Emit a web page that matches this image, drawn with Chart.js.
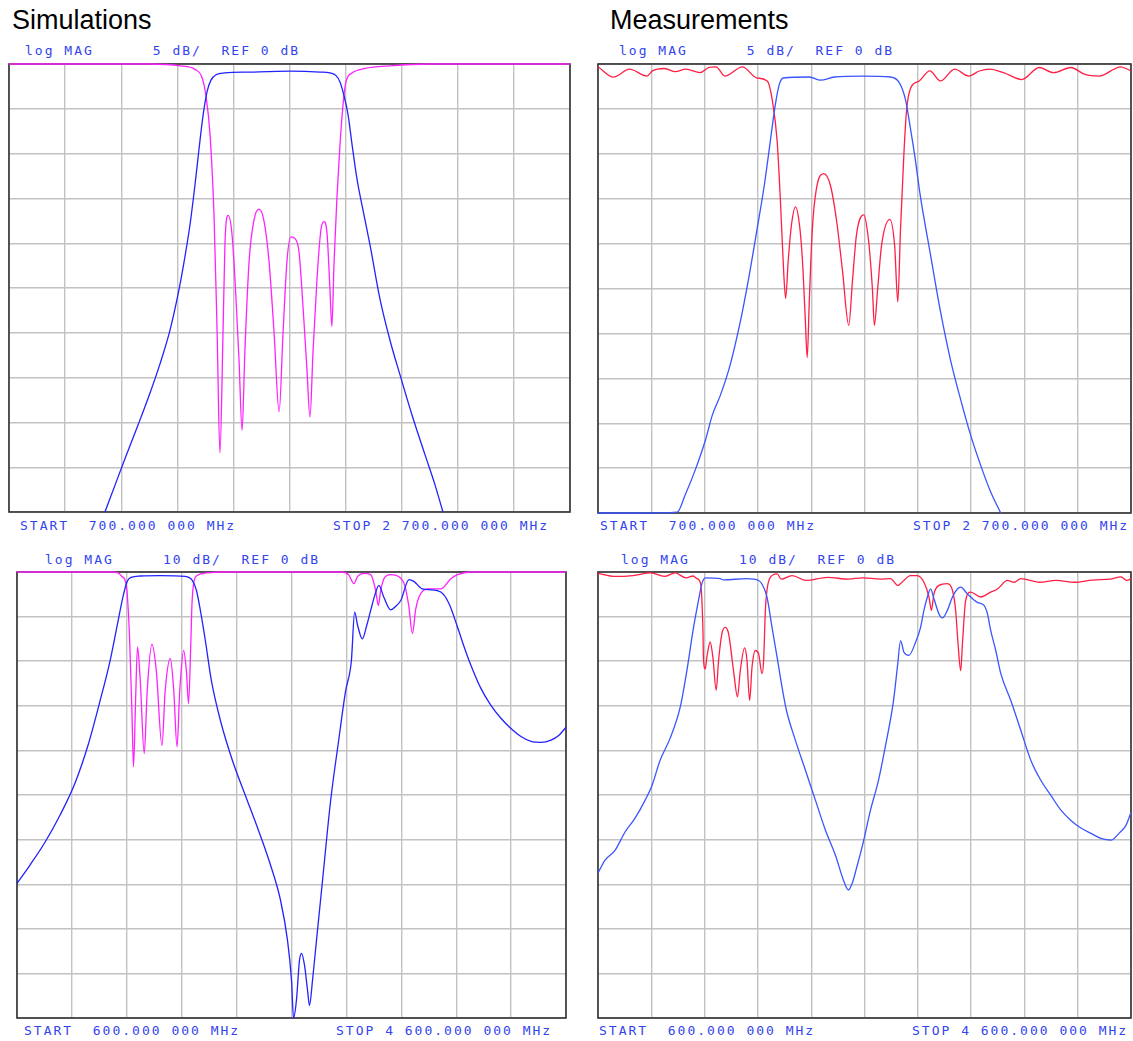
<!DOCTYPE html>
<html>
<head>
<meta charset="utf-8">
<script src="https://cdn.jsdelivr.net/npm/chart.js@4.4.0/dist/chart.umd.min.js"></script>
<style>
  html, body { margin:0; padding:0; background:#fff; width:1133px; height:1041px; overflow:hidden; }
  canvas { position:absolute; }
  .title { position:absolute; font-family:"Liberation Sans", Arial, sans-serif; font-size:27px; line-height:27px; color:#000; white-space:pre; }
  .ana { position:absolute; font-family:"DejaVu Sans Mono", monospace; font-size:13px; line-height:13px; letter-spacing:2px; color:#3344ee; white-space:pre; }
</style>
</head>
<body>
<div class="title" id="t1" style="left:12px; top:7px;"></div>
<div class="title" id="t2" style="left:610px; top:7px;"></div>
<div class="ana" id="h1" style="left:25px; top:44px;"></div>
<div class="ana" id="h2" style="left:619px; top:44px;"></div>
<div class="ana" id="f1a" style="left:20px; top:519px;"></div>
<div class="ana" id="f1b" style="left:333px; top:519px;"></div>
<div class="ana" id="f2a" style="left:600px; top:519px;"></div>
<div class="ana" id="f2b" style="left:913px; top:519px;"></div>
<div class="ana" id="h3" style="left:45px; top:553px;"></div>
<div class="ana" id="h4" style="left:621px; top:553px;"></div>
<div class="ana" id="f3a" style="left:24px; top:1024px;"></div>
<div class="ana" id="f3b" style="left:336px; top:1024px;"></div>
<div class="ana" id="f4a" style="left:599px; top:1024px;"></div>
<div class="ana" id="f4b" style="left:912px; top:1024px;"></div>
<canvas id="c1"></canvas>
<canvas id="c2"></canvas>
<canvas id="c3"></canvas>
<canvas id="c4"></canvas>
<script>
// ---------- texts ----------
const titleLeft = "Simulations";
const titleRight = "Measurements";
const headerNarrow = "log MAG      5 dB/  REF 0 dB";
const headerWide = "log MAG     10 dB/  REF 0 dB";
const startNarrow = "START  700.000 000 MHz";
const stopNarrow = "STOP 2 700.000 000 MHz";
const startWide = "START  600.000 000 MHz";
const stopWide = "STOP 4 600.000 000 MHz";

// ---------- axis ranges (MHz, dB) ----------
const narrowRange = { min: 700, max: 2700, step: 200, dbMin: -50, dbStep: 5 };
const wideRange   = { min: 600, max: 4600, step: 400, dbMin: -100, dbStep: 10 };

// ---------- data: [frequency MHz, magnitude dB] ----------
const simNarrowS21 = [[1042,-50],[1078,-47],[1114,-44],[1160,-40.3],[1203,-36.7],[1238,-33.5],[1274,-29.7],[1302,-25.8],[1324,-22.1],[1345,-18],[1363,-13.5],[1377,-9.6],[1392,-5.7],[1406,-3.1],[1420,-1.8],[1438,-1.2],[1470,-1.0],[1559,-0.9],[1702,-0.8],[1809,-0.9],[1844,-1.0],[1866,-1.3],[1880,-2.0],[1894,-3.5],[1909,-5.7],[1923,-9.0],[1941,-12.9],[1962,-16.3],[1987,-20.2],[2023,-26.3],[2058,-30.8],[2094,-34.7],[2137,-39.2],[2183,-43.6],[2219,-47],[2247,-50]];
const simNarrowS11 = [[700,0],[1203,0],[1310,-0.2],[1363,-0.6],[1388,-1.5],[1402,-3.5],[1417,-8],[1431,-17],[1442,-30],[1452,-43.4],[1463,-30],[1470,-20],[1481,-16.9],[1495,-19],[1509,-26],[1520,-33],[1531,-40.9],[1541,-32],[1556,-22],[1573,-17.5],[1591,-16.2],[1609,-17.5],[1627,-22],[1645,-30],[1663,-38.8],[1677,-30],[1691,-22],[1705,-19.3],[1720,-19.5],[1734,-21],[1748,-27],[1762,-34],[1773,-39.4],[1784,-32],[1798,-24],[1812,-18.5],[1823,-17.6],[1834,-19],[1844,-25],[1851,-29.3],[1859,-22],[1869,-15],[1880,-9],[1891,-4.5],[1901,-2],[1923,-1],[1969,-0.5],[2058,-0.2],[2200,0],[2700,0]];

const measNarrowS21 = [[700,-50],[858,-50],[997,-49.9],[1027,-48],[1065,-45.2],[1103,-41.9],[1129,-39.1],[1159,-36.9],[1196,-33.5],[1234,-28.7],[1264,-24.1],[1298,-18.2],[1324,-13.5],[1347,-8.5],[1365,-4.6],[1380,-2.3],[1395,-1.56],[1493,-1.45],[1535,-1.8],[1587,-1.45],[1692,-1.34],[1798,-1.45],[1831,-2.1],[1854,-4.0],[1873,-7.3],[1888,-10.1],[1910,-14.8],[1948,-21.3],[1986,-27.7],[2023,-33],[2061,-37.4],[2098,-41.3],[2136,-44.7],[2174,-47.7],[2211,-50]];
const measNarrowS11 = [[700,-0.3],[758,-1.46],[818,-0.58],[884,-1.34],[904,-0.77],[950,-0.5],[990,-0.85],[1030,-0.58],[1083,-0.96],[1116,-0.39],[1143,-0.31],[1176,-1.34],[1242,-0.31],[1295,-1.54],[1335,-1.89],[1355,-4.2],[1372,-8.5],[1384,-14.9],[1397,-23.3],[1404,-26.1],[1414,-21.8],[1426,-17.9],[1441,-15.9],[1456,-17.9],[1467,-21.8],[1478,-28.5],[1485,-32.7],[1493,-26.3],[1504,-18.5],[1519,-14],[1547,-12.2],[1572,-13.5],[1595,-17.4],[1617,-22.9],[1641,-29.1],[1655,-24.1],[1670,-19],[1697,-16.8],[1715,-19.6],[1730,-25.2],[1737,-29.1],[1749,-25.2],[1764,-20.2],[1795,-17.3],[1813,-20.2],[1825,-26.5],[1835,-18.5],[1848,-9.9],[1858,-5.1],[1873,-2.7],[1905,-1.9],[1945,-0.77],[1985,-1.89],[2038,-0.58],[2091,-1.34],[2131,-0.78],[2170,-0.56],[2222,-0.96],[2290,-1.73],[2356,-0.39],[2409,-0.96],[2474,-0.39],[2527,-1.16],[2581,-1.34],[2661,-0.31],[2700,-0.78]];

const simWideS21 = [[600,-69.8],[695,-65.7],[804,-60.6],[914,-54.5],[1023,-47.3],[1118,-38.8],[1206,-28.8],[1279,-19.8],[1337,-10.9],[1374,-5.3],[1403,-2.1],[1432,-1.2],[1498,-0.9],[1644,-0.8],[1826,-1.0],[1877,-1.9],[1907,-4.1],[1936,-8.6],[1972,-15.3],[2016,-24.3],[2082,-33.3],[2169,-42.2],[2264,-50.1],[2359,-57.9],[2447,-65.7],[2520,-73.6],[2571,-82.6],[2600,-91.5],[2615,-100],[2636,-96],[2658,-87.1],[2673,-85.5],[2695,-88.2],[2717,-93.8],[2731,-97.2],[2753,-91.6],[2782,-82.6],[2826,-69.2],[2885,-51.3],[2943,-37.9],[2994,-26.7],[3036,-20],[3060,-9.0],[3082,-12.0],[3116,-15.0],[3148,-12.0],[3177,-8.6],[3206,-5.3],[3237,-3.0],[3272,-5.6],[3323,-8.5],[3359,-7.7],[3396,-6.4],[3456,-1.7],[3491,-2.1],[3554,-3.8],[3615,-4.0],[3688,-4.5],[3748,-7.1],[3810,-12.4],[3858,-16.8],[3907,-20.9],[3980,-26.1],[4053,-29.9],[4126,-32.8],[4199,-35.1],[4272,-36.9],[4345,-38.0],[4418,-38.2],[4491,-37.7],[4549,-36.6],[4600,-34.8]];
const simWideS11 = [[600,0],[1279,0],[1337,-0.2],[1364,-1.0],[1388,-1.9],[1401,-4.1],[1420,-14.6],[1437,-31],[1449,-43.7],[1464,-28.8],[1478,-16.8],[1498,-24.3],[1527,-40.7],[1549,-26.5],[1583,-16.2],[1615,-22.1],[1656,-38.9],[1680,-26.5],[1717,-19.4],[1742,-26.5],[1766,-39.2],[1786,-26.5],[1814,-17.6],[1834,-22.1],[1850,-29.5],[1867,-15.3],[1875,-7.1],[1887,-2.6],[1912,-0.8],[1985,-0.2],[2100,0],[2958,0],[3016,-0.6],[3055,-2.6],[3082,-1.0],[3128,-0.3],[3177,-0.6],[3213,-4.1],[3233,-7.5],[3250,-4.1],[3279,-1.2],[3323,-0.6],[3381,-1.0],[3425,-3.0],[3454,-7.5],[3481,-13.8],[3505,-8.3],[3529,-5.6],[3591,-3.8],[3688,-3.8],[3761,-1.5],[3810,-0.6],[3907,0],[4600,0]];

const measWideS21 = [[600,-67.5],[653,-64.6],[728,-62.4],[803,-58.3],[878,-55.2],[953,-51.2],[1006,-47.8],[1066,-42.2],[1141,-37.3],[1217,-30.3],[1267,-22.1],[1317,-12.4],[1354,-6.4],[1380,-2.6],[1405,-1.3],[1517,-1.5],[1542,-1.75],[1718,-1.5],[1805,-1.9],[1843,-3.4],[1868,-5.6],[1906,-12.4],[1944,-19.1],[1981,-25.8],[2014,-31.0],[2081,-37.7],[2156,-44.4],[2232,-51.2],[2307,-57.9],[2382,-63.5],[2442,-69.1],[2479,-71.3],[2510,-69.6],[2540,-66.4],[2585,-61.3],[2645,-53.4],[2705,-46.7],[2758,-38.9],[2818,-28.8],[2848,-21],[2871,-15.4],[2896,-18.0],[2933,-18.7],[2984,-15.7],[3021,-12.4],[3046,-8.6],[3072,-5.6],[3096,-3.8],[3121,-6.0],[3159,-9.4],[3184,-10.3],[3222,-8.6],[3260,-5.6],[3297,-3.8],[3322,-3.4],[3372,-4.9],[3447,-6.8],[3497,-7.5],[3523,-9.4],[3547,-13.1],[3585,-17.6],[3623,-22.8],[3698,-28.8],[3773,-35.5],[3848,-42.2],[3923,-46.7],[3999,-50.1],[4074,-53.4],[4149,-55.7],[4224,-57.4],[4299,-58.6],[4374,-59.7],[4450,-60.1],[4510,-58.6],[4562,-56.8],[4600,-53.9]];
const measWideS11 = [[600,-0.3],[728,-1.0],[863,-0.8],[995,-0.2],[1100,-1.0],[1179,-0.2],[1260,-1.3],[1314,-0.9],[1344,-1.5],[1370,-2.6],[1387,-12.4],[1392,-19.8],[1405,-21.7],[1417,-19.1],[1442,-15.7],[1462,-19.1],[1487,-26.5],[1505,-19.8],[1530,-13.8],[1555,-12.4],[1580,-13.8],[1617,-22.1],[1647,-28.0],[1668,-22.1],[1700,-17.0],[1718,-19.8],[1738,-28.8],[1756,-21.3],[1781,-17.6],[1805,-18.3],[1831,-22.8],[1843,-19.8],[1856,-8.6],[1868,-4.1],[1893,-1.2],[1944,-0.4],[1976,-1.6],[2056,-0.8],[2162,-1.9],[2322,-1.2],[2480,-1.6],[2585,-1.3],[2720,-1.6],[2795,-1.5],[2851,-3.0],[2871,-2.6],[2946,-0.8],[2996,-0.8],[3046,-2.3],[3084,-5.6],[3102,-8.6],[3121,-4.9],[3159,-3.0],[3222,-2.6],[3260,-4.1],[3284,-8.6],[3302,-16.1],[3322,-22.1],[3335,-16.1],[3359,-6.4],[3397,-4.5],[3472,-5.6],[3547,-4.5],[3598,-3.8],[3673,-1.9],[3723,-2.3],[3773,-1.5],[3912,-2.3],[4036,-1.9],[4178,-2.3],[4310,-1.8],[4442,-1.6],[4525,-1.1],[4570,-1.9],[4600,-1.5]];

// ---------- styles ----------
const colSimBlue = '#2222ff';
const colMeasBlue = '#3a55ff';
const colMagenta = '#ff22ff';
const colRed = '#ff1f45';
const PAD = 4;

// ---------- texts into page ----------
const setText = (id, t) => { document.getElementById(id).textContent = t; };
setText('t1', titleLeft); setText('t2', titleRight);
setText('h1', headerNarrow); setText('h2', headerNarrow);
setText('h3', headerWide); setText('h4', headerWide);
setText('f1a', startNarrow); setText('f1b', stopNarrow);
setText('f2a', startNarrow); setText('f2b', stopNarrow);
setText('f3a', startWide); setText('f3b', stopWide);
setText('f4a', startWide); setText('f4b', stopWide);

const framePlugin = {
  id: 'frame',
  beforeDatasetsDraw(chart) {
    const a = chart.chartArea, ctx = chart.ctx;
    ctx.save();
    ctx.strokeStyle = '#333333';
    ctx.lineWidth = 1.6;
    ctx.strokeRect(a.left, a.top, a.right - a.left, a.bottom - a.top);
    ctx.restore();
  }
};

const toXY = arr => arr.map(p => ({ x: p[0], y: p[1] }));

function makePanel(id, box, range, traces) {
  const cv = document.getElementById(id);
  const w = box.w + 2 * PAD, h = box.h + 2 * PAD;
  cv.width = w; cv.height = h;
  cv.style.width = w + 'px'; cv.style.height = h + 'px';
  cv.style.left = (box.x - PAD) + 'px'; cv.style.top = (box.y - PAD) + 'px';
  new Chart(cv, {
    type: 'line',
    data: {
      datasets: traces.map(t => ({
        data: toXY(t.data),
        borderColor: t.color,
        borderWidth: 1.3,
        pointRadius: 0,
        fill: false,
        cubicInterpolationMode: 'monotone',
        clip: PAD
      }))
    },
    options: {
      responsive: false,
      animation: false,
      events: [],
      devicePixelRatio: 1,
      layout: { padding: PAD },
      plugins: { legend: { display: false }, tooltip: { enabled: false } },
      scales: {
        x: {
          type: 'linear', min: range.min, max: range.max,
          ticks: { display: false, stepSize: range.step },
          grid: { color: '#c2c2c2', lineWidth: 1.4, drawTicks: false },
          border: { display: false },
          afterFit(s) { s.height = 0; }
        },
        y: {
          type: 'linear', min: range.dbMin, max: 0,
          ticks: { display: false, stepSize: range.dbStep },
          grid: { color: '#c2c2c2', lineWidth: 1.4, drawTicks: false },
          border: { display: false },
          afterFit(s) { s.width = 0; }
        }
      }
    },
    plugins: [framePlugin]
  });
}

makePanel('c1', { x: 9, y: 64, w: 561, h: 448 }, narrowRange, [
  { data: simNarrowS21, color: colSimBlue },
  { data: simNarrowS11, color: colMagenta }
]);
makePanel('c2', { x: 598, y: 64, w: 533, h: 449 }, narrowRange, [
  { data: measNarrowS21, color: colMeasBlue },
  { data: measNarrowS11, color: colRed }
]);
makePanel('c3', { x: 17, y: 572, w: 549, h: 446 }, wideRange, [
  { data: simWideS21, color: colSimBlue },
  { data: simWideS11, color: colMagenta }
]);
makePanel('c4', { x: 598, y: 572, w: 533, h: 446 }, wideRange, [
  { data: measWideS21, color: colMeasBlue },
  { data: measWideS11, color: colRed }
]);
</script>
</body>
</html>
